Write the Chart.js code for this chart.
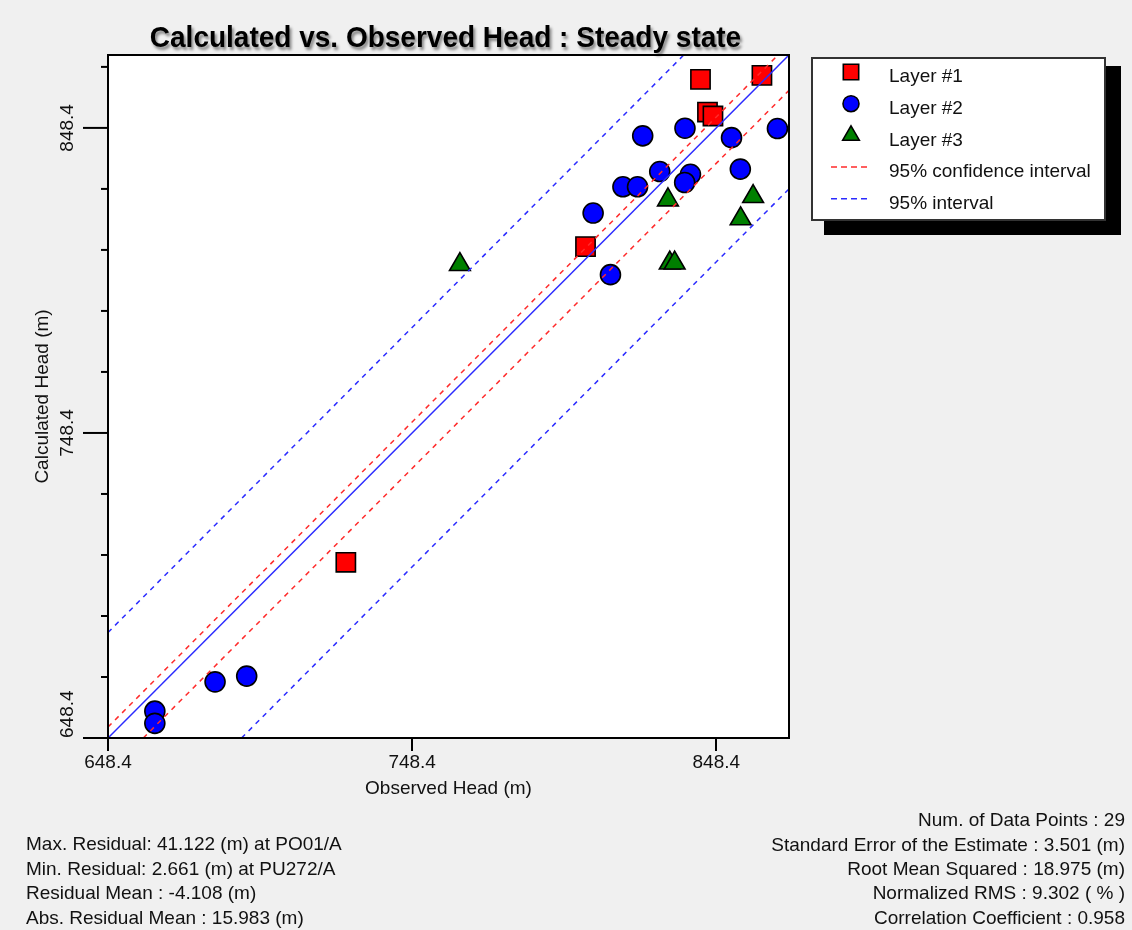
<!DOCTYPE html>
<html>
<head>
<meta charset="utf-8">
<title>Calculated vs. Observed Head</title>
<script src="https://cdn.jsdelivr.net/npm/chart.js@4.4.1/dist/chart.umd.min.js"></script>
<style>
  html, body { margin: 0; padding: 0; background: #f0f0f0; }
  #wrap { width: 1132px; height: 930px; }
</style>
</head>
<body>
<div id="wrap"><canvas id="headChart" width="1132" height="930"></canvas></div>
<script>
// observed head (x) vs calculated head (y), in metres
const layer1Obs  = [843.2, 863.4, 845.5, 847.3, 805.4, 726.6];
const layer1Calc = [864.3, 865.6, 853.6, 852.3, 809.5, 706.0];

const layer2Obs  = [824.2, 838.1, 853.4, 868.5, 829.8, 839.9, 838.0, 856.3,
                    817.7, 822.5, 807.9, 813.6, 663.8, 663.8, 683.6, 694.0];
const layer2Calc = [845.8, 848.3, 845.2, 848.2, 834.1, 833.2, 830.5, 834.9,
                    829.1, 829.1, 820.5, 800.3, 657.2, 653.2, 666.8, 668.7];

const layer3Obs  = [764.1, 832.5, 860.5, 856.4, 833.1, 834.7];
const layer3Calc = [803.6, 824.8, 825.9, 818.6, 804.1, 804.1];

// reference lines (end points)
const oneToOneX  = [648.4, 872.3];
const oneToOneY  = [648.4, 872.3];
const confHighX  = [648.4, 868.7];
const confHighY  = [652.0, 872.3];
const confLowX   = [660.0, 872.3];
const confLowY   = [648.4, 860.7];
const predHighX  = [648.4, 837.7];
const predHighY  = [683.0, 872.3];
const predLowX   = [692.3, 872.3];
const predLowY   = [648.4, 828.4];

const axisMin = 648.4;
const axisMax = 872.3;
const xTicks = [648.4, 748.4, 848.4];
const yMajorTicks = [648.4, 748.4, 848.4];
const yMinorTicks = [668.4, 688.4, 708.4, 728.4, 768.4, 788.4, 808.4, 828.4, 868.4];

const statsLeft = [
  'Max. Residual: 41.122 (m) at PO01/A',
  'Min. Residual: 2.661 (m) at PU272/A',
  'Residual Mean : -4.108 (m)',
  'Abs. Residual Mean : 15.983 (m)'
];
const statsRight = [
  'Num. of Data Points : 29',
  'Standard Error of the Estimate : 3.501 (m)',
  'Root Mean Squared : 18.975 (m)',
  'Normalized RMS : 9.302 ( % )',
  'Correlation Coefficient : 0.958'
];

const FONT = '"Liberation Sans", Arial, sans-serif';

function pairUp(xs, ys) {
  return xs.map((x, i) => ({ x: x, y: ys[i] }));
}

function lineSet(label, xs, ys, color, dash) {
  return {
    label: label,
    data: pairUp(xs, ys),
    showLine: true,
    borderColor: color,
    backgroundColor: color,
    borderWidth: 1.5,
    borderDash: dash,
    pointRadius: 0,
    pointHoverRadius: 0,
    fill: false,
    order: 0
  };
}

// frame, y ticks, title, legend and summary text
const headDecor = {
  id: 'headDecor',
  beforeDraw(chart) {
    const { ctx, chartArea: a } = chart;
    ctx.save();
    ctx.fillStyle = '#ffffff';
    ctx.fillRect(a.left, a.top, a.right - a.left, a.bottom - a.top);
    ctx.restore();
  },
  afterDraw(chart) {
    const { ctx, chartArea: a } = chart;
    const yScale = chart.scales.y;
    ctx.save();

    ctx.strokeStyle = '#000';
    ctx.lineWidth = 2;
    ctx.strokeRect(a.left, a.top, a.right - a.left, a.bottom - a.top);

    yScale.ticks.forEach(t => {
      const py = yScale.getPixelForValue(t.value);
      const len = yMajorTicks.includes(t.value) ? 25 : 7;
      ctx.beginPath();
      ctx.moveTo(a.left - len, py);
      ctx.lineTo(a.left, py);
      ctx.stroke();
    });

    ctx.font = '19px ' + FONT;
    ctx.fillStyle = '#111';
    ctx.textAlign = 'center';
    ctx.textBaseline = 'middle';
    yMajorTicks.forEach(v => {
      const label = v.toFixed(1);
      const half = ctx.measureText(label).width / 2;
      const py = Math.min(yScale.getPixelForValue(v), a.bottom - half);
      ctx.save();
      ctx.translate(68, py);
      ctx.rotate(-Math.PI / 2);
      ctx.fillText(label, 0, 0);
      ctx.restore();
    });

    // title with drop shadow, slightly tall lettering
    ctx.save();
    ctx.font = 'bold 28px ' + FONT;
    ctx.fillStyle = '#000';
    ctx.textAlign = 'center';
    ctx.textBaseline = 'alphabetic';
    ctx.shadowColor = 'rgba(0,0,0,0.45)';
    ctx.shadowOffsetX = 2;
    ctx.shadowOffsetY = 3;
    ctx.shadowBlur = 3;
    ctx.translate((a.left + a.right) / 2 - 3, 47);
    ctx.scale(1, 1.08);
    ctx.fillText('Calculated vs. Observed Head : Steady state', 0, 0);
    ctx.restore();

    // legend box
    ctx.fillStyle = '#000';
    ctx.fillRect(824, 66, 297, 169);
    ctx.fillStyle = '#fff';
    ctx.fillRect(812, 58, 293, 162);
    ctx.strokeStyle = '#333';
    ctx.lineWidth = 2;
    ctx.strokeRect(812, 58, 293, 162);

    const seen = new Set();
    const entries = chart.data.datasets.filter(ds => {
      if (!ds.label || seen.has(ds.label)) return false;
      seen.add(ds.label);
      return true;
    });
    entries.forEach((ds, i) => {
      const my = 72 + i * 31.7;
      const ty = 77 + i * 31.7;
      ctx.save();
      if (ds.showLine) {
        ctx.strokeStyle = ds.borderColor;
        ctx.lineWidth = 1.5;
        ctx.setLineDash([6, 4]);
        ctx.beginPath();
        ctx.moveTo(831, my);
        ctx.lineTo(869, my);
        ctx.stroke();
      } else {
        ctx.fillStyle = ds.backgroundColor;
        ctx.strokeStyle = ds.borderColor;
        ctx.lineWidth = ds.borderWidth;
        Chart.helpers.drawPoint(ctx, {
          pointStyle: ds.pointStyle,
          radius: ds.pointRadius * 0.8,
          rotation: 0,
          borderWidth: ds.borderWidth
        }, 851, my);
      }
      ctx.restore();
      ctx.font = '19px ' + FONT;
      ctx.fillStyle = '#111';
      ctx.textAlign = 'left';
      ctx.textBaseline = 'middle';
      ctx.fillText(ds.label, 889, ty);
    });

    // summary statistics
    ctx.font = '19px ' + FONT;
    ctx.fillStyle = '#111';
    ctx.textBaseline = 'middle';
    ctx.textAlign = 'left';
    statsLeft.forEach((s, i) => ctx.fillText(s, 26, 845.2 + i * 24.4));
    ctx.textAlign = 'right';
    statsRight.forEach((s, i) => ctx.fillText(s, 1125, 821 + i * 24.35));

    ctx.restore();
  }
};

const ctx = document.getElementById('headChart').getContext('2d');

const headChart = new Chart(ctx, {
  type: 'scatter',
  data: {
    datasets: [
      {
        label: 'Layer #1',
        data: pairUp(layer1Obs, layer1Calc),
        pointStyle: 'rect',
        pointRadius: 13.6,
        pointHoverRadius: 13.6,
        backgroundColor: '#ff0000',
        borderColor: '#000000',
        borderWidth: 1.6,
        order: 1
      },
      {
        label: 'Layer #2',
        data: pairUp(layer2Obs, layer2Calc),
        pointStyle: 'circle',
        pointRadius: 10,
        pointHoverRadius: 10,
        backgroundColor: '#0000ff',
        borderColor: '#000000',
        borderWidth: 1.6,
        order: 1
      },
      {
        label: 'Layer #3',
        data: pairUp(layer3Obs, layer3Calc),
        pointStyle: 'triangle',
        pointRadius: 12,
        pointHoverRadius: 12,
        backgroundColor: '#008000',
        borderColor: '#000000',
        borderWidth: 1.6,
        order: 1
      },
      lineSet('', oneToOneX, oneToOneY, '#2b2bff', []),
      lineSet('95% confidence interval', confHighX, confHighY, '#ff2b2b', [5, 5]),
      lineSet('95% confidence interval', confLowX, confLowY, '#ff2b2b', [5, 5]),
      lineSet('95% interval', predHighX, predHighY, '#2b2bff', [5, 5]),
      lineSet('95% interval', predLowX, predLowY, '#2b2bff', [5, 5])
    ]
  },
  options: {
    responsive: false,
    animation: false,
    devicePixelRatio: 1,
    events: [],
    layout: { padding: { top: 55, right: 343, bottom: 122, left: 0 } },
    plugins: {
      legend: { display: false },
      tooltip: { enabled: false },
      title: { display: false }
    },
    scales: {
      x: {
        type: 'linear',
        min: axisMin,
        max: axisMax,
        afterBuildTicks: s => { s.ticks = xTicks.map(v => ({ value: v })); },
        afterFit: s => { s.height = 70; },
        ticks: {
          callback: v => v.toFixed(1),
          autoSkip: false,
          maxRotation: 0,
          padding: 0,
          color: '#111',
          font: { size: 19, family: FONT }
        },
        grid: { drawOnChartArea: false, tickLength: 13, color: '#000', lineWidth: 2 },
        border: { display: false },
        title: {
          display: true,
          text: 'Observed Head (m)',
          color: '#111',
          font: { size: 19, family: FONT },
          padding: { top: 0, bottom: 7.6 }
        }
      },
      y: {
        type: 'linear',
        min: axisMin,
        max: axisMax,
        afterBuildTicks: s => {
          s.ticks = yMajorTicks.concat(yMinorTicks).sort((p, q) => p - q).map(v => ({ value: v }));
        },
        afterFit: s => { s.width = 108; },
        ticks: { display: false },
        grid: { display: false },
        border: { display: false },
        title: {
          display: true,
          text: 'Calculated Head (m)',
          color: '#111',
          font: { size: 19, family: FONT },
          padding: { top: 31.6, bottom: 0 }
        }
      }
    }
  },
  plugins: [headDecor]
});
</script>
</body>
</html>
